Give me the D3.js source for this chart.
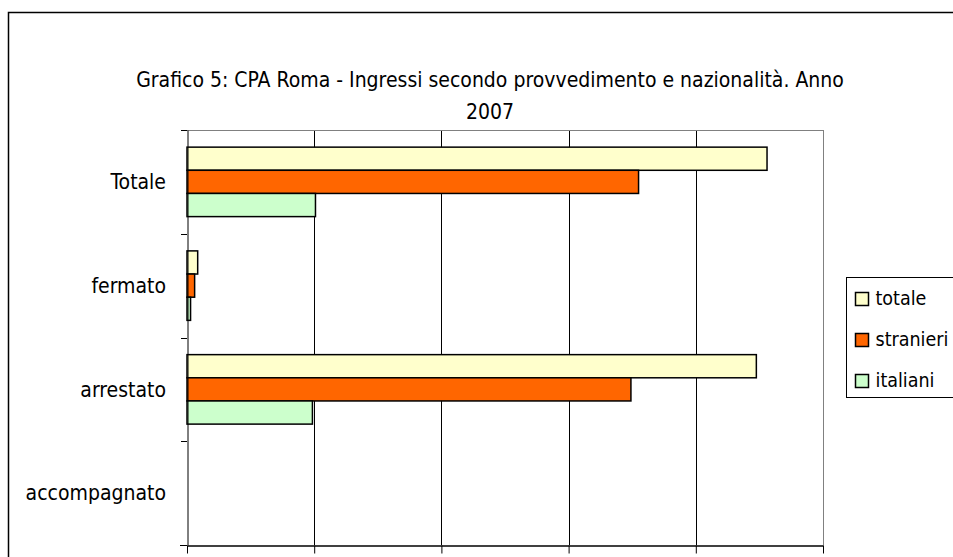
<!DOCTYPE html>
<html>
<head>
<meta charset="utf-8">
<script src="https://cdn.jsdelivr.net/npm/d3@7"></script>
<style>
  body { margin: 0; background: #fff; }
  text { font-family: "DejaVu Sans Condensed", "Liberation Sans Narrow", sans-serif; fill: #000; }
</style>
</head>
<body>
<div id="chart"></div>
<script>
// categories top to bottom, as in the picture
var categories = ["Totale", "fermato", "arrestato", "accompagnato"];
var seriesNames = ["totale", "stranieri", "italiani"];
var totaleValues = [2280, 42, 2238, 0];
var stranieriValues = [1775, 30, 1745, 0];
var italianiValues = [505, 14, 493, 0];
var xTicks = [0, 500, 1000, 1500, 2000, 2500];
var titleLines = ["Grafico 5: CPA Roma - Ingressi secondo provvedimento e nazionalità. Anno", "2007"];

var colors = ["#FFFFCC", "#FF6600", "#CCFFCC"];

var svgWidth = 953;
var svgHeight = 557;

var plot = { left: 187, right: 823, top: 130, bottom: 545 };

var svg = d3.select("#chart")
    .append("svg")
    .attr("width", svgWidth)
    .attr("height", svgHeight);

svg.append("rect")
    .attr("width", svgWidth)
    .attr("height", svgHeight)
    .attr("fill", "#fff");

// outer chart frame (runs off the right and bottom)
svg.append("rect")
    .attr("x", 8.5)
    .attr("y", 12.5)
    .attr("width", 980)
    .attr("height", 580)
    .attr("fill", "none")
    .attr("stroke", "#000")
    .attr("stroke-width", 1.5);

// title
svg.append("g").selectAll("text")
    .data(titleLines)
    .enter()
    .append("text")
    .attr("x", 490)
    .attr("y", (d, i) => 87 + i * 32)
    .attr("text-anchor", "middle")
    .style("font-size", "21px")
    .text(d => d);

var xScale = d3.scaleLinear()
    .domain([0, 2500])
    .range([plot.left, plot.right]);

var yScale = d3.scaleBand()
    .domain(categories)
    .range([plot.top, plot.bottom]);

var seriesScale = d3.scaleBand()
    .domain(seriesNames)
    .range([0, yScale.bandwidth()])
    .paddingOuter(0.74);

// gridlines
svg.append("g").selectAll("line")
    .data(xTicks.slice(1))
    .enter()
    .append("line")
    .attr("x1", d => Math.round(xScale(d)) + 0.5)
    .attr("x2", d => Math.round(xScale(d)) + 0.5)
    .attr("y1", plot.top)
    .attr("y2", plot.bottom)
    .attr("stroke", (d, i) => i === xTicks.length - 2 ? "#808080" : "#000")
    .attr("stroke-width", 1);

// top edge of plot area
svg.append("line")
    .attr("x1", plot.left)
    .attr("x2", plot.right)
    .attr("y1", plot.top + 0.5)
    .attr("y2", plot.top + 0.5)
    .attr("stroke", "#808080");

// bars
var rows = categories.map((c, i) => ({
    cat: c,
    values: [totaleValues[i], stranieriValues[i], italianiValues[i]]
}));

var groups = svg.append("g").selectAll("g")
    .data(rows)
    .enter()
    .append("g")
    .attr("transform", d => `translate(0, ${yScale(d.cat)})`);

groups.selectAll("rect")
    .data(d => d.values.map((v, j) => ({ name: seriesNames[j], value: v, color: colors[j] })).filter(d => d.value > 0))
    .enter()
    .append("rect")
    .attr("x", xScale(0))
    .attr("y", d => seriesScale(d.name))
    .attr("width", d => xScale(d.value) - xScale(0))
    .attr("height", seriesScale.bandwidth())
    .attr("fill", d => d.color)
    .attr("stroke", "#000")
    .attr("stroke-width", 1.5);

// left axis: line with tick marks at band edges
var leftAxis = d3.axisLeft(yScale).tickSize(0).tickFormat("");
svg.append("g")
    .attr("transform", `translate(${plot.left + 0.5}, 0)`)
    .call(leftAxis)
    .call(g => g.select(".domain").attr("stroke", "#000"));

svg.append("g").selectAll("line")
    .data(categories.map(c => yScale(c)).concat([plot.bottom]))
    .enter()
    .append("line")
    .attr("x1", plot.left - 6)
    .attr("x2", plot.left)
    .attr("y1", d => Math.round(d) + 0.5)
    .attr("y2", d => Math.round(d) + 0.5)
    .attr("stroke", "#000");

svg.append("g").selectAll("text")
    .data(categories)
    .enter()
    .append("text")
    .attr("x", 166)
    .attr("y", d => yScale(d) + yScale.bandwidth() / 2)
    .attr("dy", "0.35em")
    .attr("text-anchor", "end")
    .style("font-size", "21px")
    .text(d => d);

// bottom axis, labels fall outside the picture
var bottomAxis = d3.axisBottom(xScale)
    .tickValues(xTicks)
    .tickSize(8)
    .tickSizeOuter(0)
    .tickFormat("");

svg.append("g")
    .attr("transform", `translate(0, ${plot.bottom + 0.5})`)
    .call(bottomAxis)
    .call(g => g.select(".domain").attr("stroke", "#000").attr("stroke-width", 1.5))
    .call(g => g.selectAll(".tick line").attr("stroke", "#000"));

svg.append("line")
    .attr("x1", plot.left - 7)
    .attr("x2", plot.left)
    .attr("y1", plot.bottom + 0.5)
    .attr("y2", plot.bottom + 0.5)
    .attr("stroke", "#000");

// legend
var legend = svg.append("g")
    .attr("transform", "translate(846.5, 277.5)");

legend.append("rect")
    .attr("width", 140)
    .attr("height", 120)
    .attr("fill", "#fff")
    .attr("stroke", "#000");

var legendItems = legend.selectAll("g")
    .data(seriesNames)
    .enter()
    .append("g")
    .attr("transform", (d, i) => `translate(0, ${21 + i * 41})`);

legendItems.append("rect")
    .attr("x", 9)
    .attr("y", -6)
    .attr("width", 13)
    .attr("height", 13)
    .attr("fill", (d, i) => colors[i])
    .attr("stroke", "#000")
    .attr("stroke-width", 1.5);

legendItems.append("text")
    .attr("x", 29)
    .attr("dy", "0.35em")
    .style("font-size", "19.5px")
    .text(d => d);
</script>
</body>
</html>
